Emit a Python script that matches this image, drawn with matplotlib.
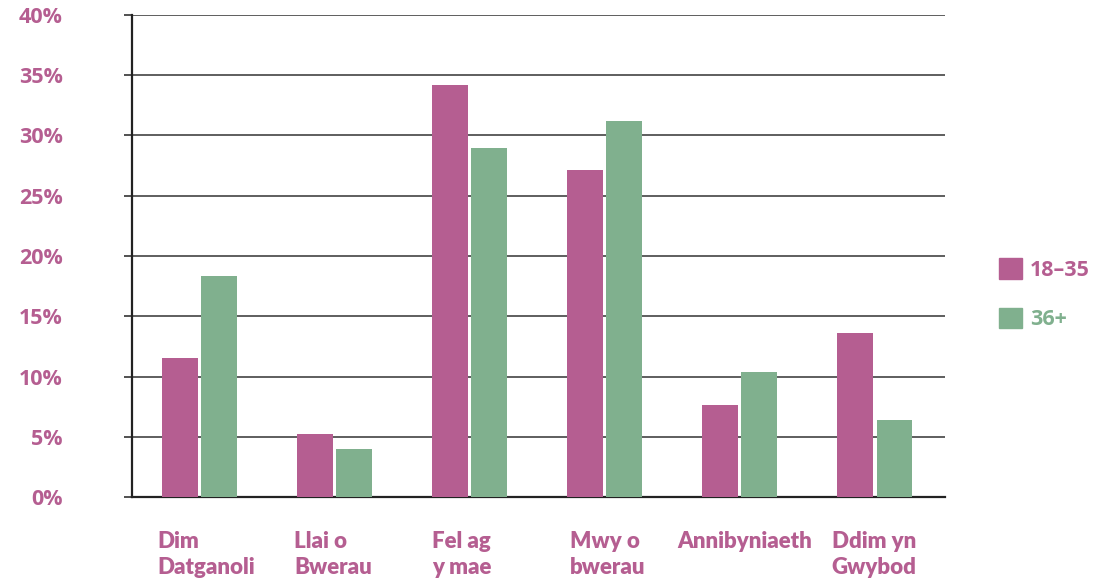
import numpy as np
import matplotlib.pyplot as plt
from matplotlib.patches import Patch

categories = ['Dim\nDatganoli', 'Llai o\nBwerau', 'Fel ag\ny mae', 'Mwy o\nbwerau',
              'Annibyniaeth', 'Ddim yn\nGwybod']
young = [11.5, 5.2, 34.2, 27.1, 7.6, 13.6]
older = [18.3, 4.0, 29.0, 31.2, 10.4, 6.4]
series_names = ['18\u201335', '36+']
yticks = [0, 5, 10, 15, 20, 25, 30, 35, 40]

pink = '#B55E91'
green = '#80B08E'
plt.rcParams['font.family'] = ['Lato', 'DejaVu Sans']

fig = plt.figure(figsize=(10.98, 5.85), dpi=100)
ax = fig.add_axes([0.1202, 0.1504, 0.7405, 0.824])

x = np.arange(len(categories))
w = 0.265
ax.bar(x - 0.145, young, w, color=pink, zorder=3)
ax.bar(x + 0.145, older, w, color=green, zorder=3)

ax.set_xlim(-0.5, 5.52)
ax.set_ylim(0, 40)
ax.set_yticks(yticks)
ax.set_yticklabels([f'{v}%' for v in yticks], color=pink, fontsize=15.5, fontweight='bold',
                   family=['Open Sans', 'DejaVu Sans'])
ax.tick_params(axis='y', length=6, width=1.2, color='#333333', pad=44)
for lab in ax.get_yticklabels():
    lab.set_horizontalalignment('right')
ax.yaxis.grid(True, color='#333333', linewidth=1.1, zorder=0)
ax.set_xticks([])
for s in ['top', 'right']:
    ax.spines[s].set_visible(False)
for s in ['left', 'bottom']:
    ax.spines[s].set_color('#222222')
    ax.spines[s].set_linewidth(1.6)

# category labels sit left-aligned under each group, the long single one shifted left
label_shift = [-0.31, -0.30, -0.28, -0.26, -0.46, -0.32]
for i, c in enumerate(categories):
    ax.text(i + label_shift[i], -0.07, c, transform=ax.get_xaxis_transform(), ha='left', va='top',
            color=pink, fontsize=16, fontweight='heavy', linespacing=1.3)

handles = [Patch(color=pink), Patch(color=green)]
leg = fig.legend(handles, series_names, loc='center left', bbox_to_anchor=(0.892, 0.497),
                 frameon=False, handlelength=1.1, handleheight=1.1,
                 labelspacing=1.25, handletextpad=0.35,
                 prop={'family': ['Open Sans', 'DejaVu Sans'], 'size': 15.5, 'weight': 'bold'})
for t, col in zip(leg.get_texts(), [pink, green]):
    t.set_color(col)

fig.savefig('out.png', dpi=100)
